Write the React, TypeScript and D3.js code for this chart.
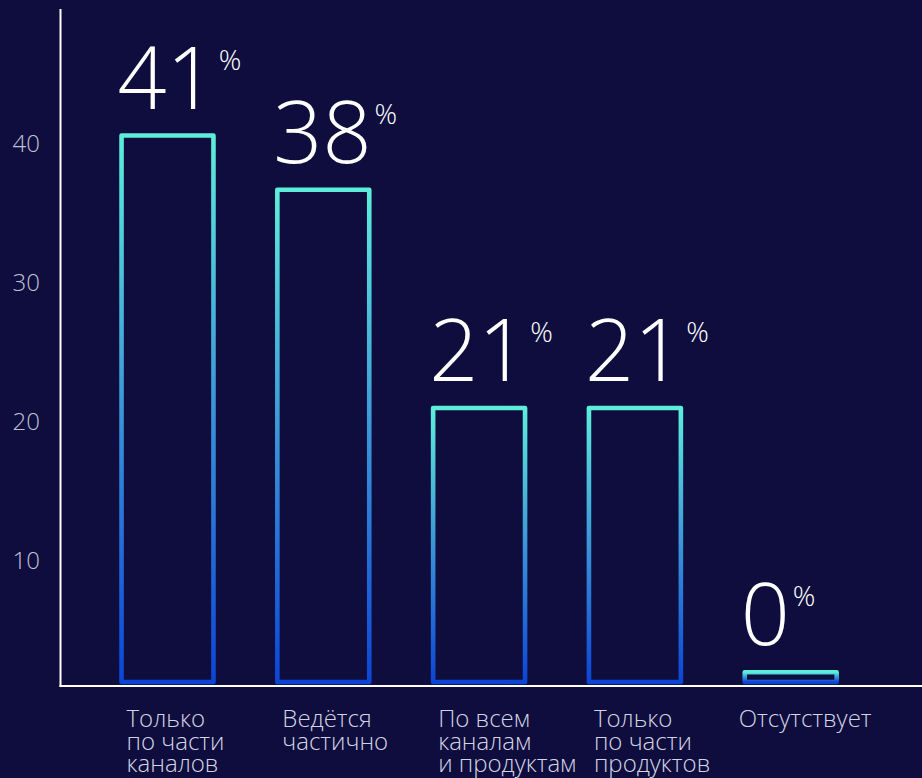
import React from "react";
import * as d3 from "d3";

const categories: string[][] = [
  ["Только", "по части", "каналов"],
  ["Ведётся", "частично"],
  ["По всем", "каналам", "и продуктам"],
  ["Только", "по части", "продуктов"],
  ["Отсутствует"],
];
const barValues: number[] = [39.3, 35.4, 19.7, 19.7, 0.7];
const percentLabels: string[] = ["41", "38", "21", "21", "0"];
const tickValues: number[] = [10, 20, 30, 40];

const W = 922;
const H = 778;
const BG = "#0e0d3d";

export default function App() {
  const x = d3
    .scaleBand<number>()
    .domain(d3.range(categories.length))
    .range([89.6, 868.6])
    .paddingInner(0.41)
    .paddingOuter(0.205);
  const y = d3.scaleLinear().domain([0, 48.4]).range([682, 9]);
  const sw = 4.6;
  const font = "'Open Sans', 'Noto Sans', sans-serif";

  return (
    <div style={{ position: "absolute", left: 0, top: 0, width: W, height: H, background: BG }}>
      <svg width={W} height={H} style={{ display: "block" }}>
        <defs>
          <linearGradient id="barGrad" x1="0" y1="0" x2="0" y2="1">
            <stop offset="0%" stopColor="#5deedb" />
            <stop offset="50%" stopColor="#3b94d8" />
            <stop offset="100%" stopColor="#0c45d6" />
          </linearGradient>
        </defs>
        <rect x={0} y={0} width={W} height={H} fill={BG} />
        <line x1={60.5} x2={60.5} y1={y.range()[1]} y2={y(0) + 5} stroke="#ffffff" strokeWidth={2} />
        <line x1={59.5} x2={W} y1={y(0) + 4} y2={y(0) + 4} stroke="#ffffff" strokeWidth={2} />
        {tickValues.map((t) => (
          <text
            key={t}
            x={40}
            y={y(t) + 16.5}
            textAnchor="end"
            dominantBaseline="central"
            fontFamily={font}
            fontWeight={300}
            fontSize={24}
            fill="#bfc1d6"
          >
            {t}
          </text>
        ))}
        {barValues.map((v, i) => {
          const bx = x(i)!;
          const bw = x.bandwidth();
          const single = categories[i].length === 1;
          const lx = single ? bx - 6 : bx + 5;
          return (
            <g key={i}>
              <rect
                x={bx}
                y={y(v)}
                width={bw}
                height={y(0) - y(v)}
                fill="none"
                stroke="url(#barGrad)"
                strokeWidth={sw}
                strokeLinejoin="round"
              />
              <text
                x={bx - 4}
                y={y(v) - 27}
                fontFamily={font}
                fontWeight={300}
                fontSize={86}
                fill="#ffffff"
              >
                {percentLabels[i]}
                <tspan fontSize={28} dx={3} dy={-39}>
                  %
                </tspan>
              </text>
              <text
                x={lx}
                y={y(0) + 45}
                fontFamily={font}
                fontWeight={300}
                fontSize={24}
                fill="#d4d5e4"
              >
                {categories[i].map((line, j) => (
                  <tspan key={j} x={lx} dy={j === 0 ? 0 : 22.5}>
                    {line}
                  </tspan>
                ))}
              </text>
            </g>
          );
        })}
      </svg>
    </div>
  );
}
